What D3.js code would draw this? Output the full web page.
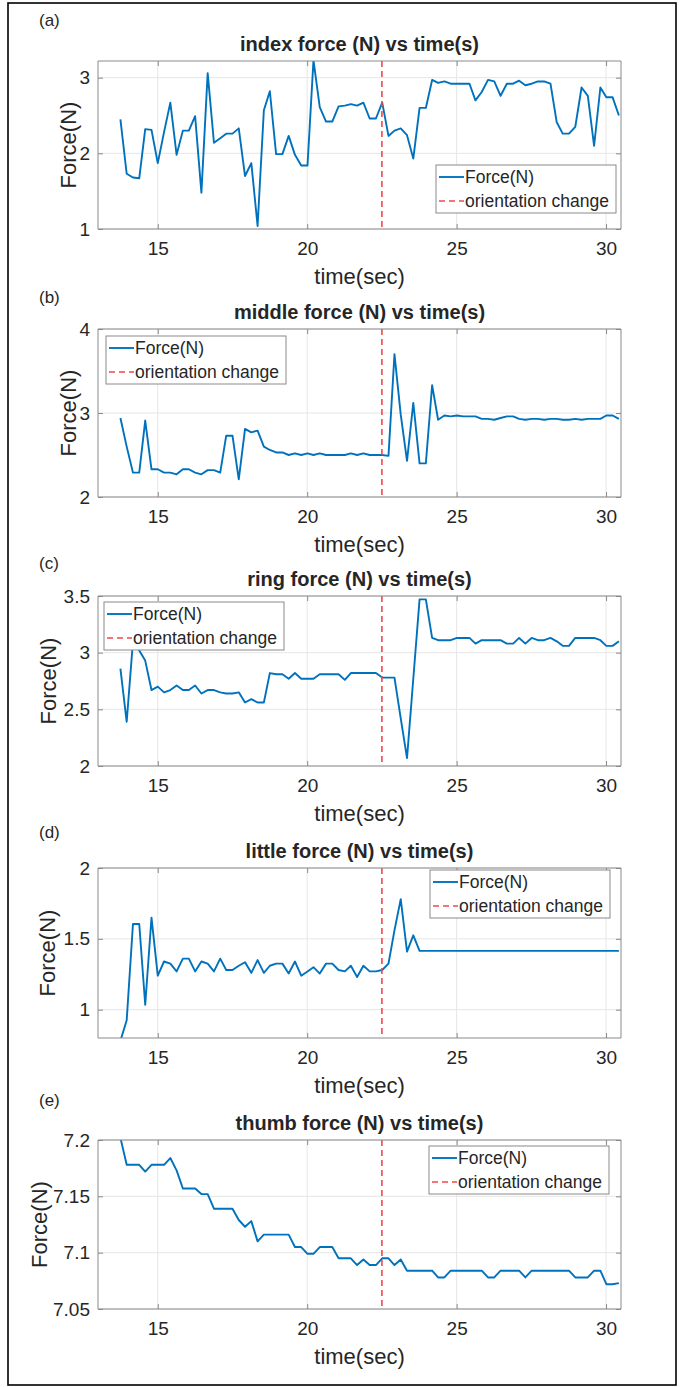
<!DOCTYPE html>
<html>
<head>
<meta charset="utf-8">
<script src="https://cdn.jsdelivr.net/npm/d3@7"></script>
<style>
  body { margin: 0; background: #fff; }
  text { font-family: "Liberation Sans", Arial, sans-serif; fill: #262626; }
</style>
</head>
<body>
<svg id="fig" width="681" height="1387"></svg>
<script>
// sample times (s), shared by all five fingers
const times = [13.75, 13.96, 14.17, 14.38, 14.58, 14.79, 15.00, 15.21, 15.42, 15.63,
  15.84, 16.04, 16.25, 16.46, 16.67, 16.88, 17.09, 17.29, 17.50, 17.71,
  17.92, 18.13, 18.34, 18.55, 18.75, 18.96, 19.17, 19.38, 19.59, 19.80,
  20.01, 20.21, 20.42, 20.63, 20.84, 21.05, 21.26, 21.46, 21.67, 21.88,
  22.09, 22.30, 22.51, 22.72, 22.92, 23.13, 23.34, 23.55, 23.76, 23.97,
  24.18, 24.38, 24.59, 24.80, 25.01, 25.22, 25.43, 25.63, 25.84, 26.05,
  26.26, 26.47, 26.68, 26.89, 27.09, 27.30, 27.51, 27.72, 27.93, 28.14,
  28.35, 28.55, 28.76, 28.97, 29.18, 29.39, 29.60, 29.81, 30.01, 30.22, 30.43];

const indexForce = [2.45, 1.73, 1.68, 1.67, 2.32, 2.31, 1.87, 2.28, 2.67, 1.98,
  2.30, 2.30, 2.49, 1.48, 3.06, 2.14, 2.20, 2.26, 2.26, 2.33,
  1.70, 1.87, 1.04, 2.57, 2.82, 1.99, 1.99, 2.23, 1.98, 1.84,
  1.84, 3.23, 2.61, 2.42, 2.42, 2.62, 2.63, 2.65, 2.63, 2.67,
  2.46, 2.46, 2.67, 2.23, 2.30, 2.33, 2.24, 1.93, 2.60, 2.60,
  2.97, 2.93, 2.95, 2.92, 2.92, 2.92, 2.92, 2.70, 2.81, 2.97,
  2.95, 2.76, 2.92, 2.92, 2.96, 2.90, 2.92, 2.95, 2.95, 2.92,
  2.41, 2.26, 2.26, 2.35, 2.87, 2.76, 2.10, 2.87, 2.74, 2.74, 2.50];

const middleForce = [2.94, 2.60, 2.29, 2.29, 2.91, 2.33, 2.33, 2.29, 2.29, 2.27,
  2.33, 2.33, 2.29, 2.27, 2.32, 2.32, 2.29, 2.73, 2.73, 2.21,
  2.81, 2.77, 2.79, 2.60, 2.56, 2.53, 2.53, 2.50, 2.52, 2.50,
  2.52, 2.50, 2.52, 2.50, 2.50, 2.50, 2.50, 2.52, 2.50, 2.52,
  2.50, 2.50, 2.50, 2.49, 3.70, 2.98, 2.43, 3.12, 2.40, 2.40,
  3.33, 2.92, 2.97, 2.96, 2.97, 2.96, 2.96, 2.96, 2.93, 2.93,
  2.92, 2.94, 2.96, 2.96, 2.93, 2.92, 2.93, 2.93, 2.92, 2.93,
  2.93, 2.92, 2.92, 2.93, 2.92, 2.93, 2.93, 2.93, 2.97, 2.97, 2.93];

const ringForce = [2.86, 2.39, 3.10, 3.02, 2.93, 2.67, 2.70, 2.65, 2.67, 2.71,
  2.67, 2.67, 2.71, 2.64, 2.67, 2.67, 2.65, 2.64, 2.64, 2.65,
  2.56, 2.59, 2.56, 2.56, 2.82, 2.81, 2.81, 2.77, 2.82, 2.77,
  2.77, 2.77, 2.81, 2.81, 2.81, 2.81, 2.76, 2.82, 2.82, 2.82,
  2.82, 2.82, 2.78, 2.78, 2.78, 2.42, 2.07, 2.77, 3.47, 3.47,
  3.13, 3.11, 3.11, 3.11, 3.13, 3.13, 3.13, 3.08, 3.11, 3.11,
  3.11, 3.11, 3.08, 3.08, 3.13, 3.08, 3.13, 3.11, 3.11, 3.13,
  3.10, 3.06, 3.06, 3.13, 3.13, 3.13, 3.13, 3.11, 3.06, 3.06, 3.10];

const littleForce = [0.78, 0.925, 1.605, 1.605, 1.035, 1.65, 1.24, 1.34, 1.325, 1.27,
  1.36, 1.36, 1.27, 1.34, 1.325, 1.27, 1.36, 1.28, 1.28, 1.31,
  1.335, 1.26, 1.35, 1.26, 1.31, 1.325, 1.325, 1.255, 1.34, 1.24,
  1.27, 1.30, 1.255, 1.325, 1.325, 1.28, 1.27, 1.31, 1.23, 1.31,
  1.27, 1.27, 1.28, 1.325, 1.56, 1.78, 1.41, 1.525, 1.415, 1.415,
  1.415, 1.415, 1.415, 1.415, 1.415, 1.415, 1.415, 1.415, 1.415, 1.415,
  1.415, 1.415, 1.415, 1.415, 1.415, 1.415, 1.415, 1.415, 1.415, 1.415,
  1.415, 1.415, 1.415, 1.415, 1.415, 1.415, 1.415, 1.415, 1.415, 1.415, 1.415];

const thumbForce = [7.202, 7.178, 7.178, 7.178, 7.172, 7.178, 7.178, 7.178, 7.184, 7.173,
  7.157, 7.157, 7.157, 7.152, 7.152, 7.139, 7.139, 7.139, 7.139, 7.129,
  7.123, 7.128, 7.110, 7.116, 7.116, 7.116, 7.116, 7.116, 7.105, 7.105,
  7.099, 7.099, 7.105, 7.105, 7.105, 7.095, 7.095, 7.095, 7.089, 7.094,
  7.089, 7.089, 7.095, 7.095, 7.089, 7.094, 7.084, 7.084, 7.084, 7.084,
  7.084, 7.078, 7.078, 7.084, 7.084, 7.084, 7.084, 7.084, 7.084, 7.078,
  7.078, 7.084, 7.084, 7.084, 7.084, 7.078, 7.084, 7.084, 7.084, 7.084,
  7.084, 7.084, 7.084, 7.078, 7.078, 7.078, 7.084, 7.084, 7.072, 7.072, 7.073];

const orientationChange = 22.5;
const xDomain = [13.0, 30.5];
const xTicks = [15, 20, 25, 30];

const panels = [
  { tag: "(a)", title: "index force (N) vs time(s)", values: indexForce,
    yDomain: [1, 3.22], yTicks: [1, 2, 3],
    top: 61, bottom: 229, tagY: 20, ylabX: 68, legend: { x: 436, y: 165 } },
  { tag: "(b)", title: "middle force (N) vs time(s)", values: middleForce,
    yDomain: [2, 4], yTicks: [2, 3, 4],
    top: 329, bottom: 497, tagY: 297, ylabX: 68, legend: { x: 106, y: 336 } },
  { tag: "(c)", title: "ring force (N) vs time(s)", values: ringForce,
    yDomain: [2, 3.5], yTicks: [2, 2.5, 3, 3.5],
    top: 596, bottom: 766, tagY: 563, ylabX: 48, legend: { x: 104, y: 602 } },
  { tag: "(d)", title: "little force (N) vs time(s)", values: littleForce,
    yDomain: [0.8, 2], yTicks: [1, 1.5, 2],
    top: 868, bottom: 1038, tagY: 832, ylabX: 47, legend: { x: 430, y: 870 } },
  { tag: "(e)", title: "thumb force (N) vs time(s)", values: thumbForce,
    yDomain: [7.05, 7.2], yTicks: [7.05, 7.1, 7.15, 7.2],
    top: 1140, bottom: 1309, tagY: 1100, ylabX: 39, legend: { x: 429, y: 1146 } }
];

const svg = d3.select("#fig");
const left = 98, right = 621;
const axisGray = "#8a8a8a";
const blue = "#0072BD";
const red = "#f04848";

// outer frame
svg.append("rect")
  .attr("x", 8).attr("y", 3).attr("width", 668).attr("height", 1382)
  .attr("fill", "none").attr("stroke", "#000").attr("stroke-width", 1.6);

const x = d3.scaleLinear().domain(xDomain).range([left, right]);

panels.forEach((p, k) => {
  const y = d3.scaleLinear().domain(p.yDomain).range([p.bottom, p.top]);
  const g = svg.append("g");
  const h = p.bottom - p.top;

  g.append("rect")
    .attr("x", left).attr("y", p.top).attr("width", right - left).attr("height", h)
    .attr("fill", "#fff");

  // grid
  g.append("g").selectAll("line").data(xTicks).join("line")
    .attr("x1", d => x(d)).attr("x2", d => x(d))
    .attr("y1", p.top).attr("y2", p.bottom)
    .attr("stroke", "#e6e6e6").attr("stroke-width", 1);
  g.append("g").selectAll("line").data(p.yTicks).join("line")
    .attr("x1", left).attr("x2", right)
    .attr("y1", d => y(d)).attr("y2", d => y(d))
    .attr("stroke", "#e6e6e6").attr("stroke-width", 1);

  const clipId = "clip" + k;
  g.append("clipPath").attr("id", clipId)
    .append("rect").attr("x", left).attr("y", p.top)
    .attr("width", right - left).attr("height", h);

  // force line
  const line = d3.line().x((d, i) => x(times[i])).y(d => y(d));
  g.append("path")
    .datum(p.values)
    .attr("clip-path", `url(#${clipId})`)
    .attr("fill", "none").attr("stroke", blue).attr("stroke-width", 1.9)
    .attr("stroke-linejoin", "round")
    .attr("d", line);

  // orientation change marker
  g.append("line")
    .attr("x1", x(orientationChange)).attr("x2", x(orientationChange))
    .attr("y1", p.top).attr("y2", p.bottom)
    .attr("stroke", red).attr("stroke-width", 1.6).attr("stroke-dasharray", "6,4");

  // axes (ticks inside, box on)
  const axB = d3.axisBottom(x).tickValues(xTicks).tickSize(-5).tickPadding(13).tickFormat(d3.format("d"));
  const axT = d3.axisTop(x).tickValues(xTicks).tickSize(-5).tickFormat("");
  const axL = d3.axisLeft(y).tickValues(p.yTicks).tickSize(-5).tickPadding(8).tickFormat(d => String(d));
  const axR = d3.axisRight(y).tickValues(p.yTicks).tickSize(-5).tickFormat("");
  const styleAxis = sel => {
    sel.select(".domain").attr("stroke", axisGray);
    sel.selectAll(".tick line").attr("stroke", axisGray);
    sel.selectAll(".tick text").attr("fill", "#262626")
      .style("font-family", "'Liberation Sans', Arial, sans-serif").style("font-size", "19px");
  };
  g.append("g").attr("transform", `translate(0,${p.bottom})`).call(axB).call(styleAxis)
    .call(s => s.select(".domain").attr("d", `M${left},0H${right}`));
  g.append("g").attr("transform", `translate(0,${p.top})`).call(axT).call(styleAxis)
    .call(s => s.select(".domain").attr("d", `M${left},0H${right}`));
  g.append("g").attr("transform", `translate(${left},0)`).call(axL).call(styleAxis)
    .call(s => s.select(".domain").attr("d", `M0,${p.top}V${p.bottom}`));
  g.append("g").attr("transform", `translate(${right},0)`).call(axR).call(styleAxis)
    .call(s => s.select(".domain").attr("d", `M0,${p.top}V${p.bottom}`));

  // texts
  g.append("text")
    .attr("x", (left + right) / 2).attr("y", p.top - 10)
    .attr("text-anchor", "middle")
    .style("font-size", "20px").style("font-weight", "bold").attr("fill", "#000")
    .text(p.title);
  g.append("text")
    .attr("x", 39).attr("y", p.tagY + 6)
    .style("font-size", "17px").attr("fill", "#000")
    .text(p.tag);
  g.append("text")
    .attr("x", (left + right) / 2).attr("y", p.bottom + 55)
    .attr("text-anchor", "middle")
    .style("font-size", "22px")
    .text("time(sec)");
  g.append("text")
    .attr("transform", `translate(${p.ylabX},${(p.top + p.bottom) / 2}) rotate(-90)`)
    .attr("text-anchor", "middle").attr("dy", "0.35em")
    .style("font-size", "22px")
    .text("Force(N)");

  // legend
  const lg = g.append("g").attr("transform", `translate(${p.legend.x},${p.legend.y})`);
  lg.append("rect").attr("width", 180).attr("height", 48)
    .attr("fill", "#fff").attr("stroke", axisGray).attr("stroke-width", 1);
  const items = [{ name: "Force(N)", color: blue, dash: null },
                 { name: "orientation change", color: red, dash: "6,4" }];
  items.forEach((it, j) => {
    const cy = 12 + j * 24;
    lg.append("line").attr("x1", 3).attr("x2", 28).attr("y1", cy).attr("y2", cy)
      .attr("stroke", it.color).attr("stroke-width", it.dash ? 1.6 : 1.9)
      .attr("stroke-dasharray", it.dash);
    lg.append("text").attr("x", 29).attr("y", cy).attr("dy", "0.35em")
      .style("font-size", "17.5px").attr("fill", "#000").text(it.name);
  });
});
</script>
</body>
</html>
